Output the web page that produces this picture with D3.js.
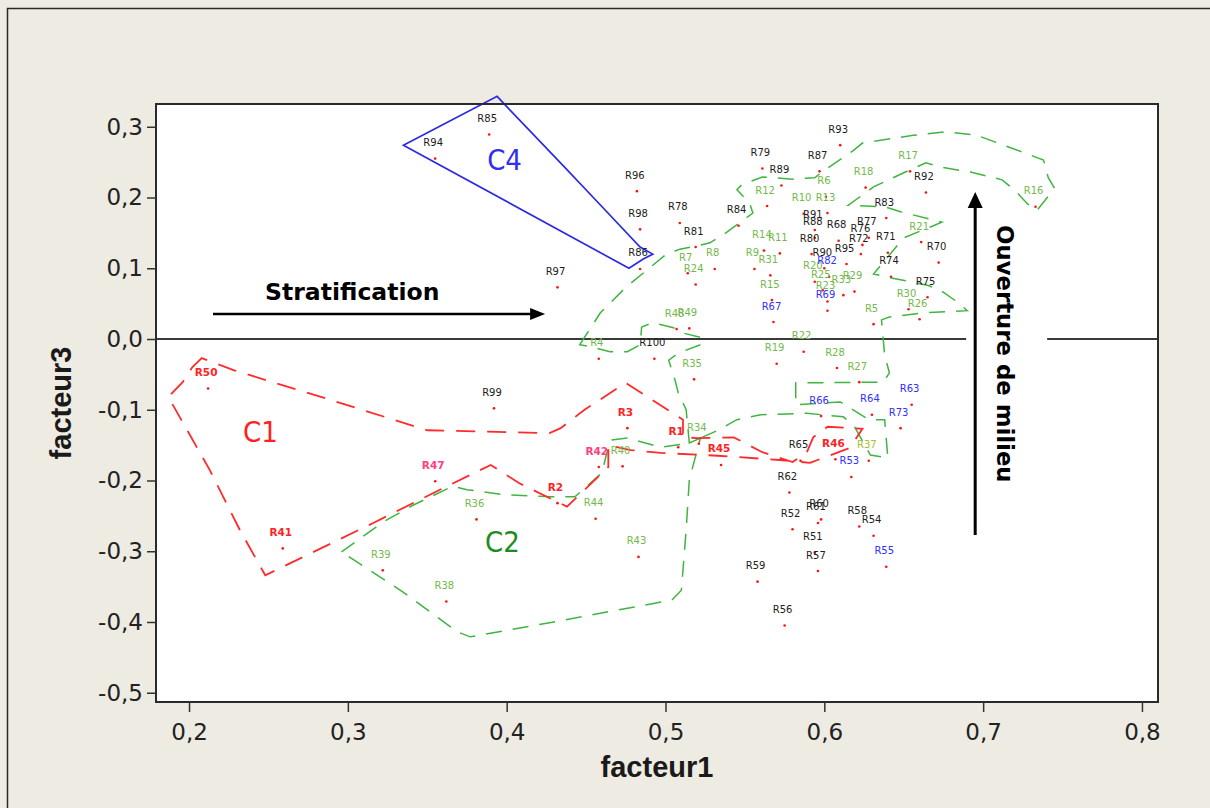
<!DOCTYPE html>
<html>
<head>
<meta charset="utf-8">
<script src="https://cdn.jsdelivr.net/npm/d3@7"></script>
<style>
  html, body { margin: 0; padding: 0; background: #eeebe2; }
  svg { display: block; }
</style>
</head>
<body>
<svg id="chart" width="1210" height="808"></svg>
<script>
// ---- site scores on factor 1 and factor 3 ----
const siteNames = ["R1","R2","R3","R4","R5","R6","R7","R8","R9","R10",
  "R11","R12","R13","R14","R15","R16","R17","R18","R19","R20",
  "R21","R22","R23","R24","R25","R26","R27","R28","R29","R30",
  "R31","R33","R34","R35","R36","R37","R38","R39","R40",
  "R41","R42","R43","R44","R45","R46","R47","R48","R49","R50",
  "R51","R52","R53","R54","R55","R56","R57","R58","R59","R60",
  "R61","R62","R63","R64","R65","R66","R67","R68","R69","R70",
  "R71","R72","R73","R74","R75","R76","R77","R78","R79","R80",
  "R81","R82","R83","R84","R85","R86","R87","R88","R89","R90",
  "R91","R92","R93","R94","R95","R96","R97","R98","R99","R100"];

const factor1 = [
  0.508,0.432,0.476,0.458,0.631,0.601,0.514,0.531,0.556,0.587,
  0.572,0.564,0.602,0.562,0.567,0.733,0.654,0.626,0.570,0.594,
  0.661,0.587,0.602,0.519,0.599,0.660,0.622,0.608,0.619,0.653,
  0.566,0.612,0.521,0.518,0.381,0.628,0.362,0.322,0.473,
  0.259,0.458,0.483,0.456,0.535,0.607,0.355,0.507,0.515,0.212,
  0.594,0.580,0.617,0.631,0.639,0.575,0.596,0.622,0.558,0.598,
  0.596,0.578,0.655,0.630,0.585,0.598,0.568,0.609,0.602,0.672,
  0.640,0.623,0.648,0.642,0.665,0.624,0.628,0.509,0.561,0.592,
  0.519,0.603,0.639,0.546,0.389,0.484,0.597,0.594,0.573,0.600,
  0.594,0.664,0.610,0.355,0.614,0.482,0.432,0.484,0.392,0.493];

const factor3 = [
  -0.153,-0.232,-0.126,-0.028,0.021,0.201,0.093,0.099,0.099,0.177,
  0.121,0.188,0.178,0.125,0.055,0.187,0.237,0.214,-0.035,0.081,
  0.137,-0.018,0.053,0.077,0.069,0.028,-0.061,-0.041,0.067,0.042,
  0.090,0.062,-0.148,-0.057,-0.255,-0.172,-0.371,-0.327,-0.180,
  -0.296,-0.181,-0.308,-0.254,-0.178,-0.170,-0.201,0.014,0.015,-0.070,
  -0.302,-0.269,-0.195,-0.278,-0.322,-0.405,-0.328,-0.265,-0.343,-0.255,
  -0.260,-0.217,-0.093,-0.107,-0.172,-0.109,0.024,0.139,0.040,0.108,
  0.122,0.120,-0.126,0.088,0.059,0.133,0.143,0.164,0.241,0.120,
  0.130,0.088,0.171,0.160,0.289,0.099,0.237,0.143,0.217,0.100,
  0.154,0.207,0.274,0.255,0.106,0.209,0.073,0.155,-0.098,-0.028];

// label colour class: k black, g green, b blue, r red, p pink, y olive
const labelGroup = [
  "r","r","r","g","g","g","g","g","g","g",
  "g","g","g","g","g","g","g","g","g","g",
  "g","g","g","g","g","g","g","g","g","g",
  "g","g","g","g","g","y","g","g","g",
  "r","p","g","g","r","r","p","g","g","r",
  "k","k","b","k","b","k","k","k","k","k",
  "k","k","b","b","k","b","b","k","b","k",
  "k","k","b","k","k","k","k","k","k","k",
  "k","b","k","k","k","k","k","k","k","k",
  "k","k","k","k","k","k","k","k","k","k"];

// ---- axes ----
const xDomain = [0.1792, 0.8101];
const yDomain = [-0.5131, 0.3322];
const xTicks = [0.2, 0.3, 0.4, 0.5, 0.6, 0.7, 0.8];
const yTicks = [0.3, 0.2, 0.1, 0.0, -0.1, -0.2, -0.3, -0.4, -0.5];

// ---- group outlines (factor1, factor3) ----
const outlineC1 = [[0.202,-0.040],[0.208,-0.027],[0.228,-0.044],[0.289,-0.086],[0.350,-0.129],
  [0.427,-0.133],[0.434,-0.126],[0.449,-0.100],[0.475,-0.062],[0.511,-0.114],[0.511,-0.139],
  [0.520,-0.140],[0.543,-0.139],[0.561,-0.160],[0.580,-0.174],[0.589,-0.160],[0.593,-0.139],
  [0.602,-0.124],[0.624,-0.127],[0.616,-0.154],[0.591,-0.175],[0.572,-0.171],[0.533,-0.165],
  [0.497,-0.161],[0.478,-0.157],[0.464,-0.150],[0.464,-0.181],[0.438,-0.237],[0.408,-0.204],
  [0.390,-0.178],[0.358,-0.213],[0.316,-0.260],[0.248,-0.334],[0.232,-0.270],[0.213,-0.185],
  [0.187,-0.082],[0.196,-0.061]];

const outlineC2 = [[0.296,-0.301],[0.322,-0.259],[0.341,-0.235],[0.366,-0.208],[0.375,-0.213],
  [0.398,-0.220],[0.429,-0.223],[0.443,-0.223],[0.460,-0.189],[0.465,-0.143],[0.476,-0.140],
  [0.497,-0.153],[0.515,-0.147],[0.522,-0.140],[0.515,-0.199],[0.513,-0.270],[0.510,-0.355],
  [0.504,-0.369],[0.427,-0.401],[0.377,-0.421],[0.369,-0.414],[0.335,-0.358]];

const outlineC3 = [[0.446,-0.008],[0.459,0.037],[0.475,0.073],[0.500,0.119],[0.509,0.127],
  [0.519,0.131],[0.528,0.136],[0.538,0.150],[0.555,0.178],[0.553,0.192],[0.545,0.211],
  [0.548,0.218],[0.561,0.229],[0.580,0.226],[0.594,0.228],[0.599,0.237],[0.618,0.266],
  [0.624,0.277],[0.656,0.288],[0.677,0.293],[0.696,0.288],[0.719,0.269],[0.738,0.253],
  [0.741,0.228],[0.745,0.213],[0.734,0.182],[0.728,0.191],[0.721,0.208],[0.712,0.225],
  [0.692,0.236],[0.673,0.243],[0.664,0.249],[0.651,0.236],[0.631,0.215],[0.615,0.189],
  [0.638,0.187],[0.648,0.180],[0.674,0.165],[0.650,0.143],[0.631,0.092],[0.643,0.086],
  [0.665,0.076],[0.673,0.069],[0.684,0.052],[0.690,0.040],[0.663,0.037],[0.641,0.031],
  [0.636,0.027],[0.638,-0.023],[0.641,-0.048],[0.637,-0.061],[0.582,-0.062],[0.582,-0.093],
  [0.610,-0.089],[0.628,-0.114],[0.638,-0.114],[0.640,-0.168],[0.629,-0.164],[0.619,-0.124],
  [0.612,-0.110],[0.589,-0.105],[0.560,-0.107],[0.545,-0.114],[0.533,-0.129],[0.522,-0.140],
  [0.515,-0.147],[0.513,-0.100],[0.508,-0.076],[0.506,-0.058],[0.502,-0.030],[0.508,-0.020],
  [0.522,-0.008],[0.524,0.001],[0.512,0.008],[0.505,0.016],[0.492,0.023],[0.485,0.017],
  [0.484,-0.008],[0.476,-0.018],[0.465,-0.018],[0.453,-0.011]];

const outlineC4 = [[0.335,0.274],[0.394,0.343],[0.399,0.331],[0.436,0.244],[0.455,0.199],
  [0.484,0.130],[0.492,0.120],[0.486,0.113],[0.477,0.100]];

// group names and where they sit
const groupNames = ["C1", "C2", "C4"];
const groupNamePos = [[0.234,-0.1456],[0.3864,-0.3011],[0.3877,0.2389]];

// ---- drawing ----
const svg = d3.select("#chart");
const plot = { left: 156, right: 1158, top: 104, bottom: 702 };

const x = d3.scaleLinear().domain(xDomain).range([plot.left, plot.right]);
const y = d3.scaleLinear().domain(yDomain).range([plot.bottom, plot.top]);

svg.append("rect").attr("width", 1210).attr("height", 808).attr("fill", "#eeebe2");
svg.append("rect").attr("x", 7.5).attr("y", 8.5).attr("width", 1300).attr("height", 900)
  .attr("fill", "none").attr("stroke", "#2a2a2a").attr("stroke-width", 1.5);

svg.append("rect").attr("x", plot.left).attr("y", plot.top)
  .attr("width", plot.right - plot.left).attr("height", plot.bottom - plot.top)
  .attr("fill", "#ffffff");

// zero reference line, interrupted by the vertical caption
const zeroGap = [0.6893, 0.7403];
[[xDomain[0], zeroGap[0]], [zeroGap[1], xDomain[1]]].forEach(([a, b]) => {
  svg.append("line").attr("x1", x(a)).attr("x2", x(b)).attr("y1", y(0)).attr("y2", y(0))
    .attr("stroke", "#3a3a3a").attr("stroke-width", 2);
});

const outline = d3.line().x(d => x(d[0])).y(d => y(d[1])).curve(d3.curveLinearClosed);

svg.append("path").attr("d", outline(outlineC3)).attr("fill", "none")
  .attr("stroke", "#3fb53f").attr("stroke-width", 1.5).attr("stroke-dasharray", "16 11");
svg.append("path").attr("d", outline(outlineC2)).attr("fill", "none")
  .attr("stroke", "#3fb53f").attr("stroke-width", 1.5).attr("stroke-dasharray", "16 11");
svg.append("path").attr("d", outline(outlineC1)).attr("fill", "none")
  .attr("stroke", "#ff2a2a").attr("stroke-width", 1.8).attr("stroke-dasharray", "19 12");
svg.append("path").attr("d", outline(outlineC4)).attr("fill", "none")
  .attr("stroke", "#2b2be0").attr("stroke-width", 1.7);

const sites = siteNames.map((n, i) => ({ name: n, f1: factor1[i], f3: factor3[i], g: labelGroup[i] }));

const labelColour = { k: "#1c1c1c", g: "#74b84a", b: "#2f2fff", r: "#ff2222", p: "#ff3d80", y: "#a8bc2a" };

svg.append("g").selectAll("circle").data(sites).join("circle")
  .attr("cx", d => x(d.f1)).attr("cy", d => y(d.f3)).attr("r", 1.3).attr("fill", "#ff1010");

svg.append("g").selectAll("text").data(sites).join("text")
  .attr("x", d => x(d.f1) - 2).attr("y", d => y(d.f3) - 12.5)
  .attr("text-anchor", "middle")
  .attr("font-family", "DejaVu Sans, Verdana, sans-serif")
  .attr("font-size", d => (d.g === "r" || d.g === "p") ? 10.5 : 10)
  .attr("font-weight", d => (d.g === "r" || d.g === "p") ? "bold" : "normal")
  .attr("fill", d => labelColour[d.g])
  .text(d => d.name);

const groupColour = ["#ff2020", "#1c8c1c", "#3030f0"];
svg.append("g").selectAll("text").data(groupNames).join("text")
  .attr("x", (d, i) => x(groupNamePos[i][0])).attr("y", (d, i) => y(groupNamePos[i][1]))
  .attr("font-family", "DejaVu Sans Condensed, DejaVu Sans, sans-serif")
  .attr("font-stretch", "condensed")
  .attr("font-size", 29).attr("fill", (d, i) => groupColour[i])
  .text(d => d);

// annotation arrows
const stratArrow = { x0: 0.2151, x1: 0.4242, y: 0.0353 };
const sx0 = x(stratArrow.x0), sx1 = x(stratArrow.x1), sy = y(stratArrow.y);
svg.append("line").attr("x1", sx0).attr("x2", sx1 - 10).attr("y1", sy).attr("y2", sy)
  .attr("stroke", "#000").attr("stroke-width", 2.6);
svg.append("path").attr("d", `M${sx1},${sy} L${sx1 - 15},${sy - 6} L${sx1 - 15},${sy + 6} Z`).attr("fill", "#000");
svg.append("text").attr("x", x(0.2479)).attr("y", y(0.0551))
  .attr("font-family", "DejaVu Sans, Verdana, sans-serif").attr("font-weight", "bold")
  .attr("font-size", 23.5).attr("fill", "#000").text("Stratification");

const openArrow = { x: 0.695, y0: -0.277, y1: 0.2078 };
const ox = x(openArrow.x), oy0 = y(openArrow.y0), oy1 = y(openArrow.y1);
svg.append("line").attr("x1", ox).attr("x2", ox).attr("y1", oy0).attr("y2", oy1 + 10)
  .attr("stroke", "#000").attr("stroke-width", 3);
svg.append("path").attr("d", `M${ox},${oy1} L${ox - 7.5},${oy1 + 16} L${ox + 7.5},${oy1 + 16} Z`).attr("fill", "#000");
svg.append("text").attr("transform", `translate(${x(0.7088)},${y(0.1611)}) rotate(90)`)
  .attr("font-family", "DejaVu Sans, Verdana, sans-serif").attr("font-weight", "bold")
  .attr("font-size", 22.8).attr("fill", "#000").text("Ouverture de milieu");

// plot frame
svg.append("rect").attr("x", plot.left).attr("y", plot.top)
  .attr("width", plot.right - plot.left).attr("height", plot.bottom - plot.top)
  .attr("fill", "none").attr("stroke", "#2a2a2a").attr("stroke-width", 2);

const fmt = v => (v < 0 ? "-" : "") + Math.abs(v).toFixed(1).replace(".", ",");

const gx = svg.append("g").attr("transform", `translate(0,${plot.bottom})`)
  .call(d3.axisBottom(x).tickValues(xTicks).tickFormat(fmt).tickSize(10).tickPadding(12));
gx.select(".domain").remove();
gx.selectAll("line").attr("stroke", "#333").attr("stroke-width", 1.5);
gx.selectAll("text").attr("font-family", "DejaVu Sans, Verdana, sans-serif").attr("font-size", 23).attr("fill", "#222");

const gy = svg.append("g").attr("transform", `translate(${plot.left},0)`)
  .call(d3.axisLeft(y).tickValues(yTicks).tickFormat(fmt).tickSize(9).tickPadding(4));
gy.select(".domain").remove();
gy.selectAll("line").attr("stroke", "#333").attr("stroke-width", 1.5);
gy.selectAll("text").attr("font-family", "DejaVu Sans, Verdana, sans-serif").attr("font-size", 23).attr("fill", "#222");

// axis titles
svg.append("text").attr("x", (plot.left + plot.right) / 2).attr("y", 777)
  .attr("text-anchor", "middle").attr("font-family", "Liberation Sans, Arial, sans-serif")
  .attr("font-weight", "bold").attr("font-size", 29).attr("fill", "#1a1a1a").text("facteur1");
svg.append("text").attr("transform", `translate(71,${(plot.top + plot.bottom) / 2}) rotate(-90)`)
  .attr("text-anchor", "middle").attr("font-family", "Liberation Sans, Arial, sans-serif")
  .attr("font-weight", "bold").attr("font-size", 29).attr("fill", "#1a1a1a").text("facteur3");
</script>
</body>
</html>
